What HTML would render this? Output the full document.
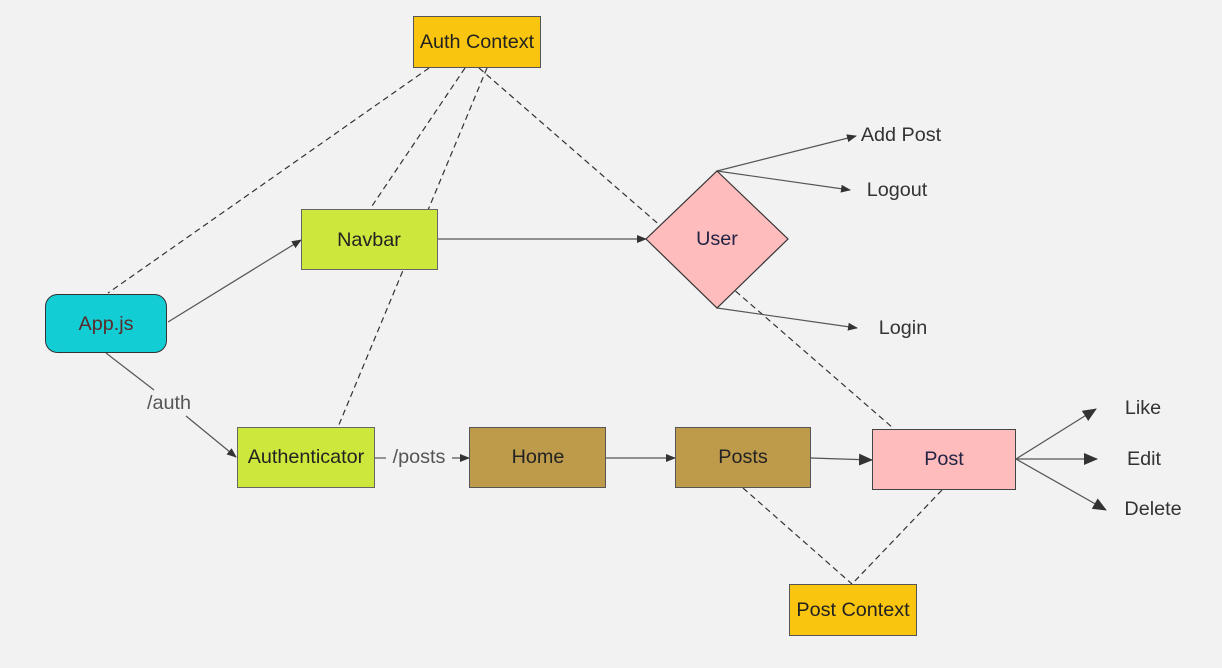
<!DOCTYPE html>
<html><head><meta charset="utf-8"><style>
html,body{margin:0;padding:0;background:#f2f2f2;}
svg{display:block;}
text{font-family:"Liberation Sans",sans-serif;font-size:19.8px;}
</style></head><body>
<svg width="1222" height="668" viewBox="0 0 1222 668">
<defs>
<marker id="a" markerWidth="10" markerHeight="8" refX="9" refY="4" orient="auto" markerUnits="userSpaceOnUse"><path d="M0,0 L10,4 L0,8 Z" fill="#333"/></marker>
<marker id="b" markerWidth="14" markerHeight="12" refX="13" refY="6" orient="auto" markerUnits="userSpaceOnUse"><path d="M0,0 L14,6 L0,12 Z" fill="#333"/></marker>
</defs>
<rect width="1222" height="668" fill="#f2f2f2"/>
<g stroke="#333" stroke-width="1.2" stroke-dasharray="6,4" fill="none">
<line x1="429" y1="68" x2="108" y2="293"/>
<line x1="465" y1="68" x2="370" y2="209"/>
<line x1="487" y1="68" x2="338" y2="427"/>
<line x1="479" y1="68" x2="893" y2="428"/>
<line x1="743" y1="488" x2="852" y2="584"/>
<line x1="942" y1="490" x2="852" y2="584"/>
</g>
<g stroke="#555" stroke-width="1.2" fill="none">
<line x1="168" y1="322" x2="301" y2="240" marker-end="url(#a)"/>
<line x1="106" y1="353" x2="154" y2="390"/>
<line x1="186" y1="416" x2="236" y2="457" marker-end="url(#a)"/>
<line x1="438" y1="239" x2="646" y2="239" marker-end="url(#a)"/>
<line x1="375" y1="458" x2="386" y2="458"/>
<line x1="452" y1="458" x2="469" y2="458" marker-end="url(#a)"/>
<line x1="606" y1="458" x2="675" y2="458" marker-end="url(#a)"/>
<line x1="811" y1="458" x2="872" y2="460" marker-end="url(#b)"/>
<line x1="717" y1="171" x2="856" y2="136" marker-end="url(#a)"/>
<line x1="717" y1="171" x2="850" y2="190" marker-end="url(#a)"/>
<line x1="717" y1="308" x2="857" y2="328" marker-end="url(#a)"/>
<line x1="1016" y1="459" x2="1096" y2="409" marker-end="url(#b)"/>
<line x1="1016" y1="459" x2="1097" y2="459" marker-end="url(#b)"/>
<line x1="1016" y1="459" x2="1106" y2="510" marker-end="url(#b)"/>
</g>
<rect x="413.5" y="16.5" width="127" height="51" fill="#f9c50e" stroke="#555"/>
<text x="477" y="48" text-anchor="middle" fill="#222">Auth Context</text>
<rect x="301.5" y="209.5" width="136" height="60" fill="#cde73c" stroke="#666"/>
<text x="369" y="246" text-anchor="middle" fill="#222">Navbar</text>
<rect x="45.5" y="294.5" width="121" height="58" rx="12" fill="#13cdd4" stroke="#333"/>
<text x="106" y="330" text-anchor="middle" fill="#5a2a2a">App.js</text>
<text x="169" y="409" text-anchor="middle" fill="#555">/auth</text>
<rect x="237.5" y="427.5" width="137" height="60" fill="#cde73c" stroke="#666"/>
<text x="306" y="463" text-anchor="middle" fill="#222">Authenticator</text>
<text x="419" y="463" text-anchor="middle" fill="#555">/posts</text>
<rect x="469.5" y="427.5" width="136" height="60" fill="#be9b4b" stroke="#555"/>
<text x="538" y="463" text-anchor="middle" fill="#222">Home</text>
<rect x="675.5" y="427.5" width="135" height="60" fill="#be9b4b" stroke="#555"/>
<text x="743" y="463" text-anchor="middle" fill="#222">Posts</text>
<rect x="872.5" y="429.5" width="143" height="60" fill="#ffbcbc" stroke="#444"/>
<text x="944" y="465" text-anchor="middle" fill="#222244">Post</text>
<rect x="789.5" y="584.5" width="127" height="51" fill="#f9c50e" stroke="#555"/>
<text x="853" y="616" text-anchor="middle" fill="#222">Post Context</text>
<polygon points="717,171 788,239 717,308 646,239" fill="#ffbcbc" stroke="#333" stroke-width="1.2"/>
<text x="717" y="245" text-anchor="middle" fill="#222244">User</text>
<g fill="#333">
<text x="901" y="141" text-anchor="middle">Add Post</text>
<text x="897" y="196" text-anchor="middle">Logout</text>
<text x="903" y="334" text-anchor="middle">Login</text>
<text x="1143" y="414" text-anchor="middle">Like</text>
<text x="1144" y="465" text-anchor="middle">Edit</text>
<text x="1153" y="515" text-anchor="middle">Delete</text>
</g>
</svg>
</body></html>
